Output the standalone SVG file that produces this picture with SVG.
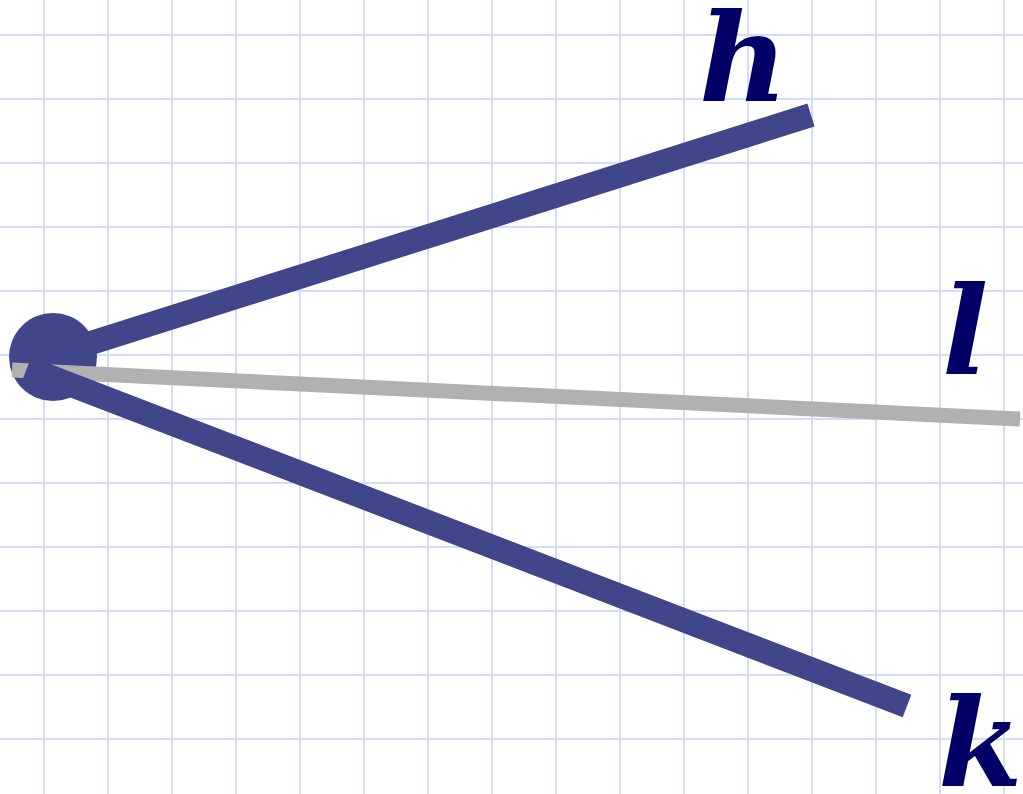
<svg xmlns="http://www.w3.org/2000/svg" width="1023" height="794" viewBox="0 0 1023 794">
<style>
.grid line{stroke:#d3ddf8;stroke-width:2}
.ray{stroke:#414589;stroke-width:24;stroke-linecap:butt}
.gray{stroke:#b1b1b1;stroke-width:15;stroke-linecap:butt}
.lbl{font-family:"DejaVu Serif",serif;font-weight:bold;font-style:italic;font-size:122px;fill:#000066}
</style>
<rect width="1023" height="794" fill="#ffffff"/>
<g class="grid">
<line x1="44" y1="0" x2="44" y2="794"/><line x1="108" y1="0" x2="108" y2="794"/><line x1="172" y1="0" x2="172" y2="794"/><line x1="236" y1="0" x2="236" y2="794"/><line x1="300" y1="0" x2="300" y2="794"/><line x1="364" y1="0" x2="364" y2="794"/><line x1="428" y1="0" x2="428" y2="794"/><line x1="492" y1="0" x2="492" y2="794"/><line x1="556" y1="0" x2="556" y2="794"/><line x1="620" y1="0" x2="620" y2="794"/><line x1="684" y1="0" x2="684" y2="794"/><line x1="748" y1="0" x2="748" y2="794"/><line x1="812" y1="0" x2="812" y2="794"/><line x1="876" y1="0" x2="876" y2="794"/><line x1="940" y1="0" x2="940" y2="794"/><line x1="1004" y1="0" x2="1004" y2="794"/>
<line x1="0" y1="35" x2="1023" y2="35"/><line x1="0" y1="99" x2="1023" y2="99"/><line x1="0" y1="163" x2="1023" y2="163"/><line x1="0" y1="227" x2="1023" y2="227"/><line x1="0" y1="291" x2="1023" y2="291"/><line x1="0" y1="355" x2="1023" y2="355"/><line x1="0" y1="419" x2="1023" y2="419"/><line x1="0" y1="483" x2="1023" y2="483"/><line x1="0" y1="547" x2="1023" y2="547"/><line x1="0" y1="611" x2="1023" y2="611"/><line x1="0" y1="675" x2="1023" y2="675"/><line x1="0" y1="739" x2="1023" y2="739"/>
</g>
<g id="vertex"><circle cx="53" cy="357" r="44" fill="#414589"/></g>
<g id="connectors">
<line class="ray" x1="53" y1="355" x2="811" y2="115"/>
<line class="gray" x1="12" y1="370" x2="1020" y2="419"/>
<line class="ray" x1="27" y1="368" x2="907" y2="706"/>
</g>
<g id="label-h"><text class="lbl" x="699" y="101">h</text></g>
<g id="label-l"><text class="lbl" x="942" y="374">l</text></g>
<g id="label-k"><text class="lbl" x="938" y="786">k</text></g>
</svg>
